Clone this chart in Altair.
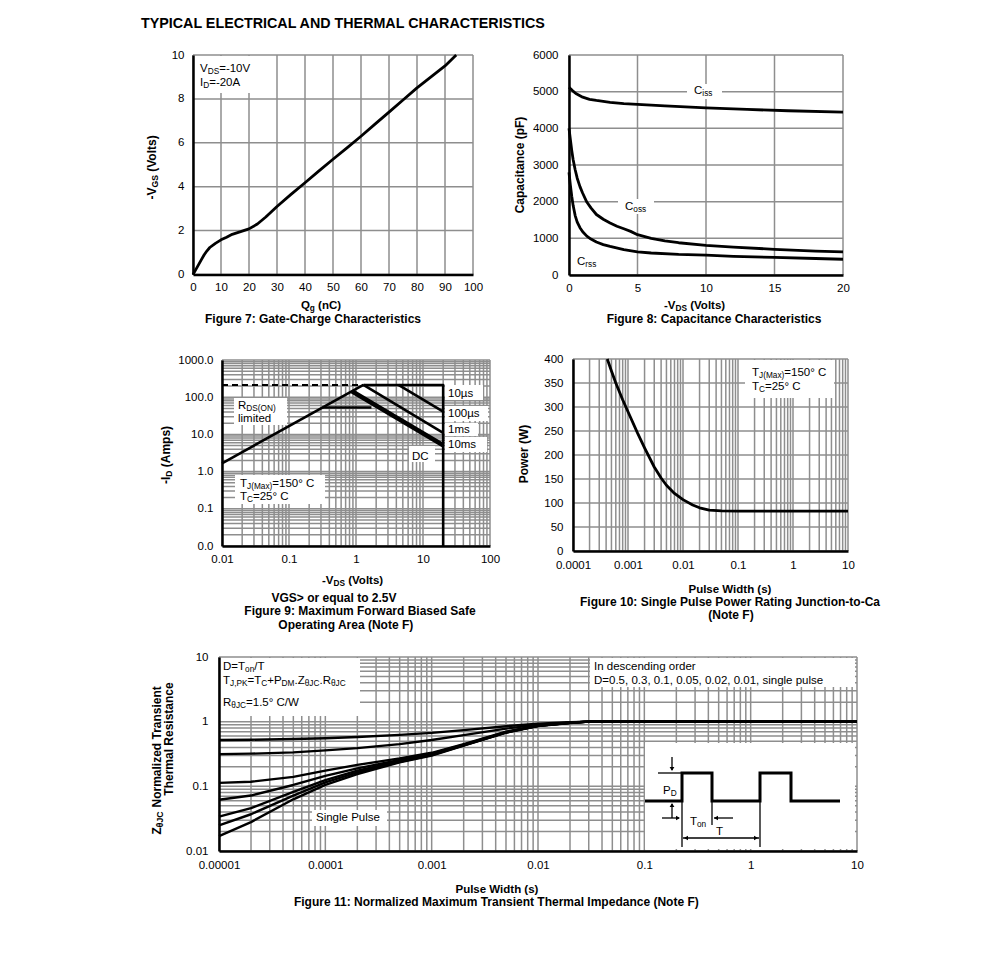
import re
import altair as alt
import pandas as pd

OFF = 8            # page margin
W, H = 975, 962    # drawing area
FONT = "Liberation Sans"
GRID = "#8e8e8e"
GW = 1.5
TICK_FS = 11.5

# ---------------- data ----------------
title_text = "TYPICAL ELECTRICAL AND THERMAL CHARACTERISTICS"

# Figure 7 : gate charge
f7_qg = [0, 1, 2, 3, 4, 5, 6, 8, 10, 12, 14, 17, 20, 23, 26, 30, 35, 40, 45, 50, 55, 60, 65, 70, 75, 80, 85, 90, 94]
f7_vgs = [0, 0.22, 0.45, 0.68, 0.9, 1.08, 1.23, 1.42, 1.58, 1.7, 1.83, 1.95, 2.08, 2.3, 2.62, 3.1, 3.65, 4.18, 4.72, 5.25, 5.77, 6.3, 6.85, 7.4, 7.95, 8.5, 9.0, 9.5, 10.0]
f7_xticks = [0, 10, 20, 30, 40, 50, 60, 70, 80, 90, 100]
f7_yticks = [0, 2, 4, 6, 8, 10]

# Figure 8 : capacitance
f8_ciss_v = [0, 0.25, 0.5, 1, 1.5, 2, 3, 4, 5, 7, 10, 13, 16, 20]
f8_ciss_c = [5120, 5030, 4950, 4850, 4790, 4760, 4710, 4675, 4655, 4610, 4560, 4515, 4480, 4440]
f8_coss_v = [0, 0.1, 0.2, 0.3, 0.45, 0.6, 0.8, 1.0, 1.3, 1.6, 2.0, 2.5, 3, 3.5, 4, 4.5, 5, 6, 7, 8, 10, 12, 15, 18, 20]
f8_coss_c = [4000, 3700, 3400, 3150, 2870, 2640, 2410, 2230, 1990, 1830, 1650, 1520, 1420, 1330, 1260, 1190, 1100, 1000, 930, 880, 810, 760, 700, 650, 630]
f8_crss_v = [0, 0.1, 0.2, 0.3, 0.45, 0.6, 0.8, 1.0, 1.3, 1.6, 2.0, 2.5, 3, 4, 5, 6, 8, 10, 12, 15, 18, 20]
f8_crss_c = [2800, 2450, 2150, 1900, 1620, 1440, 1290, 1180, 1060, 980, 900, 830, 780, 690, 630, 600, 560, 540, 510, 480, 450, 430]
f8_xticks = [0, 5, 10, 15, 20]
f8_yticks = [0, 1000, 2000, 3000, 4000, 5000, 6000]

# Figure 9 : safe operating area
f9_limit_v = [0.01, 1.29]
f9_limit_i = [213, 213]
f9_rds_v = [0.01, 1.29]
f9_rds_i = [1.67, 213]
f9_10us_v = [1.29, 20, 20]
f9_10us_i = [213, 213, 0.01]
f9_100us_v = [4.3, 20]
f9_100us_i = [213, 40.8]
f9_1ms_v = [1.29, 20]
f9_1ms_i = [213, 11]
f9_10ms_v = [0.87, 20]
f9_10ms_i = [145, 5.1]
f9_dc_v = [0.317, 1.7]
f9_dc_i = [53, 53]
f9_xticks = [0.01, 0.1, 1, 10, 100]
f9_yticks = [0.01, 0.1, 1, 10, 100, 1000]

# Figure 10 : single pulse power
f10_t = [0.00042, 0.0005, 0.0006, 0.0008, 0.001, 0.0015, 0.002, 0.003, 0.004, 0.005, 0.007, 0.01, 0.015, 0.02, 0.03, 0.05, 0.1, 1, 10]
f10_p = [400, 375, 350, 315, 290, 245, 215, 175, 152, 137, 120, 107, 96, 90, 85, 83.5, 83, 83, 83]
f10_xticks = [0.0001, 0.001, 0.01, 0.1, 1, 10]
f10_yticks = [0, 50, 100, 150, 200, 250, 300, 350, 400]

# Figure 11 : transient thermal impedance
f11_t = [1e-5, 2e-5, 5e-5, 1e-4, 2e-4, 5e-4, 1e-3, 2e-3, 5e-3, 1e-2, 2e-2, 3e-2, 1e-1, 1, 10]
f11_curves = {
    "D=0.5": [0.52, 0.525, 0.54, 0.555, 0.58, 0.625, 0.67, 0.74, 0.85, 0.93, 0.98, 1.0, 1.0, 1.0, 1.0],
    "D=0.3": [0.315, 0.32, 0.335, 0.36, 0.39, 0.45, 0.52, 0.62, 0.78, 0.9, 0.97, 1.0, 1.0, 1.0, 1.0],
    "D=0.1": [0.113, 0.118, 0.14, 0.175, 0.215, 0.27, 0.33, 0.45, 0.7, 0.87, 0.96, 1.0, 1.0, 1.0, 1.0],
    "D=0.05": [0.062, 0.072, 0.105, 0.145, 0.19, 0.255, 0.32, 0.44, 0.69, 0.865, 0.96, 1.0, 1.0, 1.0, 1.0],
    "D=0.02": [0.034, 0.046, 0.082, 0.125, 0.175, 0.245, 0.31, 0.435, 0.685, 0.86, 0.96, 1.0, 1.0, 1.0, 1.0],
    "D=0.01": [0.025, 0.037, 0.072, 0.115, 0.165, 0.24, 0.305, 0.43, 0.68, 0.86, 0.96, 1.0, 1.0, 1.0, 1.0],
    "single": [0.017, 0.028, 0.063, 0.105, 0.155, 0.235, 0.3, 0.425, 0.675, 0.855, 0.955, 1.0, 1.0, 1.0, 1.0],
}
f11_xticks = [0.00001, 0.0001, 0.001, 0.01, 0.1, 1, 10]
f11_yticks = [0.01, 0.1, 1, 10]

# inset pulse diagram (diagram units)
wave_x = [0, 37, 37, 67, 67, 115, 115, 146, 146, 195]
wave_y = [58, 58, 30, 30, 58, 58, 30, 30, 58, 58]

# ---------------- geometry (page px) ----------------
P7 = dict(x0=193, x1=473, y0=55, y1=274.5, xd=[0, 100], yd=[0, 10], xt="linear", yt="linear")
P8 = dict(x0=569, x1=843, y0=55, y1=275, xd=[0, 20], yd=[0, 6000], xt="linear", yt="linear")
P9 = dict(x0=222, x1=490, y0=360, y1=546, xd=[0.01, 100], yd=[0.01, 1000], xt="log", yt="log")
P10 = dict(x0=573, x1=848, y0=359, y1=551, xd=[0.0001, 10], yd=[0, 400], xt="log", yt="linear")
P11 = dict(x0=219, x1=857, y0=657, y1=851, xd=[0.00001, 10], yd=[0.01, 10], xt="log", yt="log")
PIN = dict(x0=645, x1=855, y0=743, y1=848, xd=[0, 210], yd=[0, 105])


def sc_x(p):
    kw = dict(type=p["xt"], domain=p["xd"], range=[p["x0"] - OFF, p["x1"] - OFF], nice=False)
    if p["xt"] == "linear":
        kw["zero"] = False
    return alt.Scale(**kw)


def sc_y(p):
    kw = dict(type=p["yt"], domain=p["yd"], range=[p["y1"] - OFF, p["y0"] - OFF], nice=False)
    if p["yt"] == "linear":
        kw["zero"] = False
    return alt.Scale(**kw)


def xaxis(p, vals, fmt, pad):
    return alt.Axis(orient="bottom", offset=(p["y1"] - OFF) - H, values=vals, format=fmt,
                    grid=False, ticks=False, tickSize=0, domain=True, domainColor="black",
                    domainWidth=2.5, labelFont=FONT, labelFontSize=TICK_FS, labelColor="black",
                    labelPadding=pad, labelFlush=False, labelOverlap=False, title=None, zindex=2)


def yaxis(p, vals, fmt, pad):
    return alt.Axis(orient="left", offset=-(p["x0"] - OFF), values=vals, format=fmt,
                    grid=False, ticks=False, tickSize=0, domain=True, domainColor="black",
                    domainWidth=2.5, labelFont=FONT, labelFontSize=TICK_FS, labelColor="black",
                    labelPadding=pad, labelFlush=False, labelOverlap=False, title=None, zindex=2)


def logvals(lo_exp, hi_exp):
    out = []
    for e in range(lo_exp, hi_exp):
        for m in range(1, 10):
            out.append(m * 10.0 ** e)
    out.append(10.0 ** hi_exp)
    return out


def grid(p, xv, yv, xt, yt, xfmt, yfmt, xpad=7, ypad=9):
    dv = pd.DataFrame({"v": xv, "a": p["yd"][0], "b": p["yd"][1]})
    dh = pd.DataFrame({"v": yv, "a": p["xd"][0], "b": p["xd"][1]})
    vl = alt.Chart(dv).mark_rule(color=GRID, strokeWidth=GW).encode(
        x=alt.X("v:Q", scale=sc_x(p), axis=xaxis(p, xt, xfmt, xpad)),
        y=alt.Y("a:Q", scale=sc_y(p), axis=None),
        y2="b:Q")
    hl = alt.Chart(dh).mark_rule(color=GRID, strokeWidth=GW).encode(
        y=alt.Y("v:Q", scale=sc_y(p), axis=yaxis(p, yt, yfmt, ypad)),
        x=alt.X("a:Q", scale=sc_x(p), axis=None),
        x2="b:Q")
    return [vl, hl]


def series_df(pairs):
    rows = []
    for name, xs, ys in pairs:
        for i, (a, b) in enumerate(zip(xs, ys)):
            rows.append({"s": name, "i": i, "x": a, "y": b})
    return pd.DataFrame(rows)


def lines(p, df, width=2.5, dash=None):
    kw = dict(color="black", strokeWidth=width, strokeJoin="round")
    if dash:
        kw["strokeDash"] = dash
    return alt.Chart(df).mark_line(**kw).encode(
        x=alt.X("x:Q", scale=sc_x(p), axis=None),
        y=alt.Y("y:Q", scale=sc_y(p), axis=None),
        detail="s:N", order=alt.Order("i:Q"))


# ---------------- text helpers ----------------
REG = {' ': 278, '!': 278, '(': 333, ')': 333, '*': 389, '+': 584, ',': 278, '-': 333, '.': 278, '/': 278,
       ':': 278, '=': 584, '>': 584, 'A': 667, 'B': 667, 'C': 722, 'D': 722, 'E': 667, 'F': 611, 'G': 778,
       'H': 722, 'I': 278, 'J': 500, 'K': 667, 'L': 556, 'M': 833, 'N': 722, 'O': 778, 'P': 667, 'Q': 778,
       'R': 722, 'S': 667, 'T': 611, 'U': 722, 'V': 667, 'W': 944, 'X': 667, 'Y': 667, 'Z': 611,
       'a': 556, 'b': 556, 'c': 500, 'd': 556, 'e': 556, 'f': 278, 'g': 556, 'h': 556, 'i': 222, 'j': 222,
       'k': 500, 'l': 222, 'm': 833, 'n': 556, 'o': 556, 'p': 556, 'q': 556, 'r': 333, 's': 500, 't': 278,
       'u': 556, 'v': 500, 'w': 722, 'x': 500, 'y': 500, 'z': 500, 'µ': 576, '°': 400, 'θ': 556}
BOLD = {' ': 278, '(': 333, ')': 333, '-': 333, '.': 278, ',': 278, ':': 333, '/': 278, '=': 584, '>': 584,
        '°': 400, 'A': 722, 'B': 722, 'C': 722, 'D': 722, 'E': 667, 'F': 611, 'G': 778, 'H': 722, 'I': 278,
        'J': 556, 'K': 722, 'L': 611, 'M': 833, 'N': 722, 'O': 778, 'P': 667, 'Q': 778, 'R': 722, 'S': 667,
        'T': 611, 'U': 722, 'V': 667, 'W': 944, 'X': 667, 'Y': 667, 'Z': 611, 'a': 556, 'b': 611, 'c': 556,
        'd': 611, 'e': 556, 'f': 333, 'g': 611, 'h': 611, 'i': 278, 'j': 278, 'k': 556, 'l': 278, 'm': 889,
        'n': 611, 'o': 611, 'p': 611, 'q': 611, 'r': 389, 's': 556, 't': 333, 'u': 611, 'v': 556, 'w': 778,
        'x': 556, 'y': 556, 'z': 500, 'θ': 611}


def tw(s, size, bold):
    tbl = BOLD if bold else REG
    return sum(tbl.get(c, 556) for c in s) * size / 1000.0


TXT = {}


def txt(s, x, y, size=11.5, bold=False, anchor="start", angle=0):
    segs = []
    for piece in re.split(r"(_\{[^}]*\})", s):
        if not piece:
            continue
        if piece.startswith("_{"):
            segs.append((piece[2:-1], True))
        else:
            segs.append((piece, False))
    sub = 0.72
    ws = [tw(t, size * (sub if b else 1), bold) for t, b in segs]
    tot = sum(ws)
    pos = {"start": 0, "middle": -tot / 2, "end": -tot}[anchor]
    rows = TXT.setdefault((bold, angle), [])
    for (t, b), w in zip(segs, ws):
        fs = size * (sub if b else 1)
        lead = len(t) - len(t.lstrip(" "))
        shift = tw(" " * lead, fs, bold)
        dy = size * 0.18 if b else 0
        p0 = pos + shift
        if angle == 0:
            rx, ry = x + p0, y + dy
        else:
            rx, ry = x + dy, y - p0
        if t.strip():
            rows.append({"t": t.lstrip(" "), "x": rx - OFF, "y": ry - OFF, "s": fs})
        pos += w


BOXES = []


def box(x0, y0, x1, y1):
    BOXES.append({"x0": x0 - OFF, "y0": y0 - OFF, "x1": x1 - OFF, "y1": y1 - OFF})


# ---------------- texts ----------------
txt(title_text, 141, 28, size=14.3, bold=True)

# fig 7
txt("-V_{GS} (Volts)", 156, 167, size=12, bold=True, anchor="middle", angle=270)
txt("Q_{g} (nC)", 321, 309, bold=True, anchor="middle")
txt("Figure 7: Gate-Charge Characteristics", 313, 323, size=12, bold=True, anchor="middle")
box(195, 56, 262, 93)
txt("V_{DS}=-10V", 200, 72)
txt("I_{D}=-20A", 200, 86)

# fig 8
txt("Capacitance (pF)", 524, 165, size=12, bold=True, anchor="middle", angle=270)
txt("-V_{DS} (Volts)", 695, 309, bold=True, anchor="middle")
txt("Figure 8: Capacitance Characteristics", 714, 323, size=12, bold=True, anchor="middle")
box(687, 84, 722, 99)
txt("C_{iss}", 694, 94)
box(618, 199, 654, 214)
txt("C_{oss}", 625, 210)
txt("C_{rss}", 577, 265)

# fig 9
txt("-I_{D} (Amps)", 170, 455, size=12, bold=True, anchor="middle", angle=270)
txt("-V_{DS} (Volts)", 353, 584, bold=True, anchor="middle")
txt("VGS> or equal to 2.5V", 334, 602, size=12, bold=True, anchor="middle")
txt("Figure 9: Maximum Forward Biased Safe", 360, 615, size=12, bold=True, anchor="middle")
txt("Operating Area (Note F)", 346, 629, size=12, bold=True, anchor="middle")
box(234, 398, 287, 425)
txt("R_{DS(ON)}", 238, 409)
txt("limited", 238, 422)
box(235, 475, 325, 504)
txt("T_{J(Max)}=150° C", 240, 487)
txt("T_{C}=25° C", 240, 500)
box(445, 385, 483, 400)
txt("10µs", 448, 397)
box(445, 406, 488, 421)
txt("100µs", 448, 417)
box(445, 423, 478, 436)
txt("1ms", 448, 433)
box(445, 437, 487, 452)
txt("10ms", 448, 448)
box(409, 446, 435, 462)
txt("DC", 412, 460)

# fig 10
txt("Power (W)", 528, 454, size=12, bold=True, anchor="middle", angle=270)
txt("Pulse Width (s)", 730, 593, bold=True, anchor="middle")
txt("Figure 10: Single Pulse Power Rating Junction-to-Ca", 730, 606, size=12, bold=True, anchor="middle")
txt("(Note F)", 731, 619, size=12, bold=True, anchor="middle")
box(745, 360, 834, 398)
txt("T_{J(Max)}=150° C", 752, 376)
txt("T_{C}=25° C", 752, 390)

# fig 11
txt("Z_{θJC} Normalized Transient", 161, 760, size=12, bold=True, anchor="middle", angle=270)
txt("Thermal Resistance", 173, 739, size=12, bold=True, anchor="middle", angle=270)
txt("Pulse Width (s)", 497, 893, bold=True, anchor="middle")
txt("Figure 11: Normalized Maximum Transient Thermal Impedance (Note F)", 497, 906, size=12, bold=True,
    anchor="middle")
box(220, 658, 360, 716)
txt("D=T_{on}/T", 223, 670)
txt("T_{J,PK}=T_{C}+P_{DM}.Z_{θJC}.R_{θJC}", 223, 684)
txt("R_{θJC}=1.5° C/W", 223, 706)
box(590, 658, 855, 687)
txt("In descending order", 594, 670)
txt("D=0.5, 0.3, 0.1, 0.05, 0.02, 0.01, single pulse", 594, 684)
box(312, 810, 387, 826)
txt("Single Pulse", 316, 821)
box(645, 743, 855, 849)
txt("P_{D}", 663, 794)
txt("T_{on}", 690, 825)
txt("T", 716, 835)

# ---------------- layers ----------------
layers = []
# grids + axes
layers += grid(P7, f7_xticks, f7_yticks, f7_xticks, f7_yticks, "d", "d")
layers += grid(P8, f8_xticks, f8_yticks, f8_xticks, f8_yticks, "d", "d", ypad=11)
layers += grid(P9, logvals(-2, 2), logvals(-2, 3), f9_xticks, f9_yticks, "~g", ".1f")
layers += grid(P10, logvals(-4, 1), f10_yticks, f10_xticks, f10_yticks, "~g", "d", xpad=8, ypad=10)
layers += grid(P11, logvals(-5, 1), logvals(-2, 1), f11_xticks, f11_yticks, "~g", "~g", xpad=8, ypad=11)

# white label boxes
layers.append(alt.Chart(pd.DataFrame(BOXES)).mark_rect(color="white").encode(
    x=alt.X("x0:Q", scale=None), x2="x1:Q", y=alt.Y("y0:Q", scale=None), y2="y1:Q"))

# data lines
layers.append(lines(P7, series_df([("vgs", f7_qg, f7_vgs)]), width=2.8))
layers.append(lines(P8, series_df([("ciss", f8_ciss_v, f8_ciss_c), ("coss", f8_coss_v, f8_coss_c),
                                   ("crss", f8_crss_v, f8_crss_c)]), width=2.8))
layers.append(lines(P9, series_df([("lim", f9_limit_v, f9_limit_i)]), width=2, dash=[6, 4]))
layers.append(lines(P9, series_df([("rds", f9_rds_v, f9_rds_i), ("10us", f9_10us_v, f9_10us_i),
                                   ("100us", f9_100us_v, f9_100us_i), ("1ms", f9_1ms_v, f9_1ms_i),
                                   ("dc", f9_dc_v, f9_dc_i)]), width=2.6))
layers.append(lines(P9, series_df([("10ms", f9_10ms_v, f9_10ms_i)]), width=4.5))
layers.append(lines(P10, series_df([("p", f10_t, f10_p)]), width=2.8))
layers.append(lines(P11, series_df([(k, f11_t, v) for k, v in f11_curves.items()]), width=2.4))

# inset pulse diagram
PIN_SX = alt.Scale(domain=PIN["xd"], range=[PIN["x0"] - OFF, PIN["x1"] - OFF], nice=False, zero=False)
PIN_SY = alt.Scale(domain=PIN["yd"], range=[PIN["y0"] - OFF, PIN["y1"] - OFF], nice=False, zero=False)
wave = pd.DataFrame({"x": wave_x, "y": wave_y, "i": list(range(len(wave_x)))})
layers.append(alt.Chart(wave).mark_line(color="black", strokeWidth=3).encode(
    x=alt.X("x:Q", scale=PIN_SX, axis=None), y=alt.Y("y:Q", scale=PIN_SY, axis=None), order="i:Q"))
inset_rules = pd.DataFrame([
    {"x": 37, "x2": 37, "y": 30, "y2": 104},
    {"x": 67, "x2": 67, "y": 58, "y2": 82},
    {"x": 115, "x2": 115, "y": 58, "y2": 104},
    {"x": 13, "x2": 37, "y": 30, "y2": 30},
    {"x": 27, "x2": 27, "y": 14, "y2": 27},
    {"x": 27, "x2": 27, "y": 61, "y2": 75},
    {"x": 17, "x2": 34, "y": 75, "y2": 75},
    {"x": 69, "x2": 88, "y": 75, "y2": 75},
    {"x": 38, "x2": 114, "y": 95, "y2": 95},
])
layers.append(alt.Chart(inset_rules).mark_rule(color="black", strokeWidth=1.3).encode(
    x=alt.X("x:Q", scale=PIN_SX, axis=None), x2="x2:Q",
    y=alt.Y("y:Q", scale=PIN_SY, axis=None), y2="y2:Q"))
heads = pd.DataFrame([
    {"x": 27, "y": 26, "sh": "triangle-down"},
    {"x": 27, "y": 62, "sh": "triangle-up"},
    {"x": 33, "y": 75, "sh": "triangle-right"},
    {"x": 71, "y": 75, "sh": "triangle-left"},
    {"x": 41, "y": 95, "sh": "triangle-left"},
    {"x": 111, "y": 95, "sh": "triangle-right"},
])
layers.append(alt.Chart(heads).mark_point(color="black", filled=True, size=22, opacity=1).encode(
    x=alt.X("x:Q", scale=PIN_SX, axis=None), y=alt.Y("y:Q", scale=PIN_SY, axis=None),
    shape=alt.Shape("sh:N", scale=None)))

# texts
for (bold, angle), rows in TXT.items():
    layers.append(alt.Chart(pd.DataFrame(rows)).mark_text(
        align="left", baseline="alphabetic", font=FONT, fontWeight="bold" if bold else "normal",
        angle=angle, color="black").encode(
        x=alt.X("x:Q", scale=None), y=alt.Y("y:Q", scale=None),
        size=alt.Size("s:Q", scale=None), text="t:N"))

chart = alt.layer(*layers).properties(
    width=W, height=H, padding=0, background="white",
    autosize=alt.AutoSizeParams(type="none"),
).resolve_scale(x="independent", y="independent").resolve_axis(
    x="independent", y="independent").configure_view(stroke=None)

chart.save("out.html", embed_options={"renderer": "svg", "actions": False})
